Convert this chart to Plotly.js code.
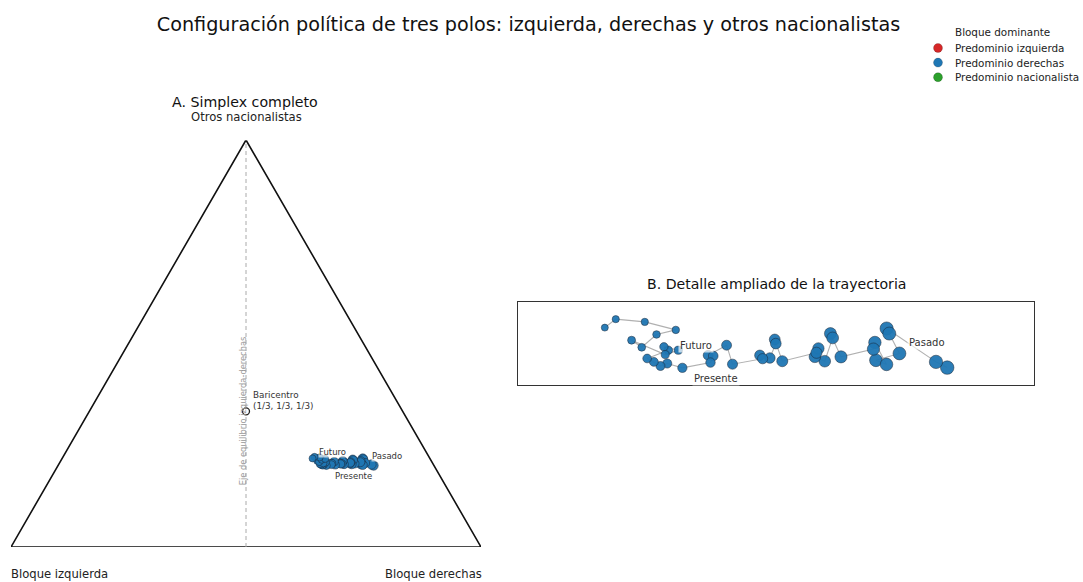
<!DOCTYPE html>
<html>
<head>
<meta charset="utf-8">
<script src="https://cdn.plot.ly/plotly-3.0.1.min.js"></script>
<style>html,body{margin:0;padding:0;background:#fff;}#chart{width:1083px;height:582px;}</style>
</head>
<body>
<div id="chart"></div>
<script>
// Shares (%) of each bloc along the trajectory, from "Pasado" (first) to "Futuro" (last)
const izquierda = [12.86, 13.17, 14.30, 14.31, 14.37, 15.40, 15.09, 15.05, 15.26, 16.66, 16.54, 16.56, 17.36, 17.64, 17.33, 17.49, 18.97, 18.78, 18.83, 19.37, 19.69, 19.66, 20.92, 20.73, 21.65, 21.47, 21.72, 22.91, 23.38, 23.69, 23.86, 24.03, 23.05, 23.15, 22.67, 23.26, 24.22, 23.99, 23.15, 22.32, 23.32, 24.36, 24.96];
const derechas = [67.12, 66.57, 63.97, 64.18, 65.00, 64.26, 64.75, 63.83, 63.92, 62.86, 61.95, 62.13, 62.34, 61.87, 61.82, 61.84, 60.73, 59.97, 60.10, 60.19, 59.75, 59.93, 58.91, 58.27, 57.79, 58.00, 58.04, 57.09, 56.42, 56.22, 55.88, 55.55, 56.17, 55.93, 56.55, 56.15, 54.56, 55.10, 55.38, 56.01, 54.66, 53.50, 53.27];
const nacionalistas = [20.02, 20.27, 21.73, 21.51, 20.64, 20.34, 20.16, 21.12, 20.83, 20.49, 21.51, 21.32, 20.30, 20.49, 20.86, 20.67, 20.30, 21.25, 21.07, 20.44, 20.56, 20.41, 20.17, 21.00, 20.56, 20.53, 20.24, 20.01, 20.20, 20.09, 20.27, 20.42, 20.78, 20.93, 20.78, 20.59, 21.22, 20.91, 21.47, 21.67, 22.02, 22.14, 21.77];
const bloques = ['Predominio izquierda', 'Predominio derechas', 'Predominio nacionalista'];
const coloresBloque = ['#d62728', '#1f77b4', '#2ca02c'];
const vertices = ['Bloque izquierda', 'Bloque derechas', 'Otros nacionalistas'];
const hitos = {Pasado: 0, Presente: 27, Futuro: 42};

const H = Math.sqrt(3) / 2;
const n = izquierda.length;
const px = [], py = [], col = [];
for (let i = 0; i < n; i++) {
  const l = izquierda[i] / 100, r = derechas[i] / 100, o = nacionalistas[i] / 100;
  px.push(r + o / 2);
  py.push(o * H);
  const arr = [l, r, o];
  col.push(coloresBloque[arr.indexOf(Math.max(...arr))]);
}
const sizeA = px.map((_, i) => 9.5 - 2.5 * i / (n - 1));
const sizeB = px.map((_, i) => 13.5 - 6.5 * i / (n - 1));

// Detail range for panel B
const xmin = Math.min(...px), xmax = Math.max(...px);
const ymin = Math.min(...py), ymax = Math.max(...py);
const sx = xmax - xmin;
const pad = 0.2535;
const xr = [xmin - pad * sx, xmax + pad * sx];
const yc = (ymin + ymax) / 2;
const yhalf = (xr[1] - xr[0]) * (83 / 516) / 2;
const yr = [yc - yhalf, yc + yhalf];

const FONT = 'DejaVu Sans';
const edge = {color: 'rgba(25,35,50,0.75)', width: 0.7};

const traces = [
  {x: [0, 1, 0.5, 0], y: [0, 0, H, 0], xaxis: 'x', yaxis: 'y', mode: 'lines',
   line: {color: '#111', width: 1.6}, showlegend: false, hoverinfo: 'skip'},
  {x: [0.5, 0.5], y: [0, H], xaxis: 'x', yaxis: 'y', mode: 'lines',
   line: {color: '#aaa', width: 1, dash: '4px,3px'}, showlegend: false, hoverinfo: 'skip'},
  {x: px, y: py, xaxis: 'x', yaxis: 'y', mode: 'lines',
   line: {color: 'rgba(140,140,140,0.6)', width: 0.8}, showlegend: false, hoverinfo: 'skip'},
  {x: px, y: py, xaxis: 'x', yaxis: 'y', mode: 'markers',
   marker: {color: col, size: sizeA, line: edge, opacity: 0.95}, showlegend: false},
  {x: [0.5], y: [H / 3], xaxis: 'x', yaxis: 'y', mode: 'markers',
   marker: {color: '#fff', size: 7, line: {color: '#222', width: 1.3}}, showlegend: false},
  {x: px, y: py, xaxis: 'x2', yaxis: 'y2', mode: 'lines',
   line: {color: 'rgba(150,150,150,0.75)', width: 1.1}, showlegend: false, hoverinfo: 'skip'},
  {x: px, y: py, xaxis: 'x2', yaxis: 'y2', mode: 'markers',
   marker: {color: col, size: sizeB, line: edge, opacity: 0.95}, showlegend: false}
];

const lab = {family: FONT, size: 8.5, color: '#333'};
const labB = {family: FONT, size: 10, color: '#333'};
const bg = 'rgba(255,255,255,0.65)';
const iP = hitos.Pasado, iR = hitos.Presente, iF = hitos.Futuro;

const annotations = [
  {text: 'A. Simplex completo', xref: 'paper', yref: 'paper', x: 245 / 1083, y: (582 - 102) / 582,
   xanchor: 'center', yanchor: 'middle', showarrow: false, font: {family: FONT, size: 14.2, color: '#111'}},
  {text: 'B. Detalle ampliado de la trayectoria', xref: 'paper', yref: 'paper', x: 776 / 1083, y: (582 - 284) / 582,
   xanchor: 'center', yanchor: 'middle', showarrow: false, font: {family: FONT, size: 14.1, color: '#111'}},
  {text: vertices[2], xref: 'x', yref: 'y', x: 0.5, y: H, yshift: 23, xanchor: 'center', yanchor: 'middle',
   showarrow: false, font: {family: FONT, size: 11.6, color: '#222'}},
  {text: vertices[0], xref: 'x', yref: 'y', x: 0, y: 0, yshift: -27, xshift: -2, xanchor: 'left', yanchor: 'middle',
   showarrow: false, font: {family: FONT, size: 11.6, color: '#222'}},
  {text: vertices[1], xref: 'x', yref: 'y', x: 1, y: 0, yshift: -27, xshift: 3, xanchor: 'right', yanchor: 'middle',
   showarrow: false, font: {family: FONT, size: 11.6, color: '#222'}},
  {text: 'Baricentro<br>(1/3, 1/3, 1/3)', xref: 'x', yref: 'y', x: 0.5, y: H / 3, xshift: 5, yshift: 11,
   xanchor: 'left', yanchor: 'middle', align: 'left', showarrow: false, font: {family: FONT, size: 8.8, color: '#333'}},
  {text: 'Eje de equilibrio izquierda-derechas', xref: 'x', yref: 'y', x: 0.5, y: H / 3, xshift: -3,
   textangle: -90, xanchor: 'center', yanchor: 'middle', showarrow: false, font: {family: FONT, size: 8.3, color: '#999'}},
  {text: 'Pasado', xref: 'x', yref: 'y', x: px[iP], y: py[iP], xshift: 13, yshift: 9.5, showarrow: false, font: lab, bgcolor: bg, borderpad: 0},
  {text: 'Presente', xref: 'x', yref: 'y', x: px[iR], y: py[iR], xshift: 27.5, yshift: -10.5, showarrow: false, font: lab, bgcolor: bg, borderpad: 0},
  {text: 'Futuro', xref: 'x', yref: 'y', x: px[iF], y: py[iF], xshift: 20, yshift: 6.5, showarrow: false, font: lab, bgcolor: bg, borderpad: 0},
  {text: 'Pasado', xref: 'x2', yref: 'y2', x: px[iP], y: py[iP], xshift: -20, yshift: 25, showarrow: false, font: labB, bgcolor: bg, borderpad: 1},
  {text: 'Presente', xref: 'x2', yref: 'y2', x: px[iR], y: py[iR], xshift: 34, yshift: -11, showarrow: false, font: labB, bgcolor: bg, borderpad: 1},
  {text: 'Futuro', xref: 'x2', yref: 'y2', x: px[iF], y: py[iF], xshift: 91, yshift: -18, showarrow: false, font: labB, bgcolor: 'rgba(255,255,255,0.7)', borderpad: 1}
];

// Manual legend (top right)
const shapes = [];
const legFont = {family: FONT, size: 10.4, color: '#222'};
annotations.push({text: 'Bloque dominante', xref: 'paper', yref: 'paper', x: 953 / 1083, y: (582 - 32) / 582,
  xanchor: 'left', yanchor: 'middle', showarrow: false, font: legFont});
bloques.forEach((b, k) => {
  const cy = 48 + k * 14.6;
  const r = 4.5;
  shapes.push({type: 'circle', xref: 'paper', yref: 'paper',
    x0: (938 - r) / 1083, x1: (938 + r) / 1083, y0: (582 - cy - r) / 582, y1: (582 - cy + r) / 582,
    fillcolor: coloresBloque[k], line: {color: 'rgba(0,0,0,0.35)', width: 0.5}});
  annotations.push({text: b, xref: 'paper', yref: 'paper', x: 953 / 1083, y: (582 - cy) / 582,
    xanchor: 'left', yanchor: 'middle', showarrow: false, font: legFont});
});

const hidden = {showgrid: false, zeroline: false, showticklabels: false, ticks: '', showline: false, fixedrange: true};
const layout = {
  width: 1083, height: 582,
  margin: {l: 0, r: 0, t: 0, b: 0},
  paper_bgcolor: '#fff', plot_bgcolor: 'rgba(0,0,0,0)',
  font: {family: FONT, color: '#222'},
  title: {text: 'Configuración política de tres polos: izquierda, derechas y otros nacionalistas',
    x: 528.5 / 1083, xanchor: 'center', y: (582 - 24) / 582, yanchor: 'middle',
    font: {family: FONT, size: 19.2, color: '#111'}},
  xaxis: Object.assign({domain: [11 / 1083, 481 / 1083], range: [0, 1], anchor: 'y'}, hidden),
  yaxis: Object.assign({domain: [35 / 582, 442 / 582], range: [0, H], anchor: 'x'}, hidden),
  xaxis2: Object.assign({}, hidden, {domain: [518 / 1083, 1034 / 1083], range: xr, anchor: 'y2',
    showline: true, mirror: true, linecolor: '#333', linewidth: 1.2}),
  yaxis2: Object.assign({}, hidden, {domain: [197 / 582, 280 / 582], range: yr, anchor: 'x2',
    showline: true, mirror: true, linecolor: '#333', linewidth: 1.2}),
  showlegend: false,
  shapes: shapes,
  annotations: annotations
};

Plotly.newPlot('chart', traces, layout, {displayModeBar: false, staticPlot: true});
</script>
</body>
</html>
